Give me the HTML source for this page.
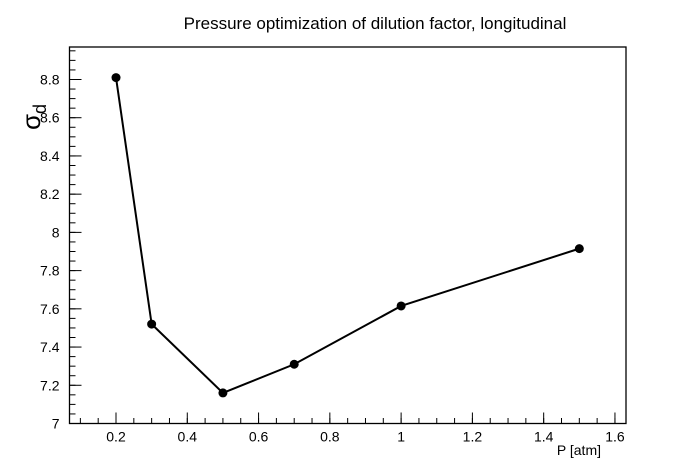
<!DOCTYPE html>
<html><head><meta charset="utf-8"><style>
body{margin:0;background:#fff;}
svg{display:block;font-family:"Liberation Sans",Helvetica,sans-serif;}
</style></head><body>
<svg width="696" height="472" viewBox="0 0 696 472">
<text x="375" y="29" font-size="17" text-anchor="middle">Pressure optimization of dilution factor, longitudinal</text>
<g id="axes"></g>
<g id="series"></g>
<text x="601" y="455" font-size="14" text-anchor="end">P [atm]</text>
<text transform="translate(40,117) rotate(-90)" font-size="26" text-anchor="middle">σ<tspan font-size="18" dy="6">d</tspan></text>
</svg>
<script>
const pressures=[0.2,0.3,0.5,0.7,1.0,1.5];
const sigmaD=[8.81,7.52,7.16,7.31,7.615,7.915];
const xTicks=[0.2,0.4,0.6,0.8,1,1.2,1.4,1.6];
const xTickLabels=["0.2","0.4","0.6","0.8","1","1.2","1.4","1.6"];
const yTicks=[7,7.2,7.4,7.6,7.8,8,8.2,8.4,8.6,8.8];
const yTickLabels=["7","7.2","7.4","7.6","7.8","8","8.2","8.4","8.6","8.8"];
const L=69.5,R=626,T=47,B=423.5;
const xMin=0.0695,xMax=1.631,yMin=7.0,yMax=8.97;
const sx=v=>L+(v-xMin)/(xMax-xMin)*(R-L);
const sy=v=>B-(v-yMin)/(yMax-yMin)*(B-T);
const NS="http://www.w3.org/2000/svg";
function mk(tag,attrs,parent){const e=document.createElementNS(NS,tag);for(const k in attrs)e.setAttribute(k,attrs[k]);parent.appendChild(e);return e;}
const ax=document.getElementById('axes');
const frame=mk('rect',{x:L,y:T,width:R-L,height:B-T,fill:'none',stroke:'#000','stroke-width':1.3},ax);


// minor ticks
for(let v=0.1;v<=1.6001;v+=0.05){const x=sx(v);if(x<L)continue;
 const t=mk('line',{x1:x,x2:x,y1:B,y2:B-5.5,stroke:'#000','stroke-width':1},ax);
 
 }
for(let v=7.05;v<=8.9501;v+=0.05){const y=sy(v);
 const t=mk('line',{x1:L,x2:L+6,y1:y,y2:y,stroke:'#000','stroke-width':1},ax);
 
 }
xTicks.forEach((v,i)=>{const x=sx(v);
 const t=mk('line',{x1:x,x2:x,y1:B,y2:B-11,stroke:'#000','stroke-width':1},ax);
 
 
 const l=mk('text',{x:x,y:B+18,'font-size':14,'text-anchor':'middle'},ax);l.textContent=xTickLabels[i];
 
 });
yTicks.forEach((v,i)=>{const y=sy(v);
 const t=mk('line',{x1:L,x2:L+12,y1:y,y2:y,stroke:'#000','stroke-width':1},ax);
 
 
 const l=mk('text',{x:L-10,y:y+5,'font-size':14,'text-anchor':'end'},ax);l.textContent=yTickLabels[i];
 
 });
const sg=document.getElementById('series');
const pts=pressures.map((p,i)=>sx(p)+','+sy(sigmaD[i])).join(' ');
const line=mk('polyline',{points:pts,fill:'none',stroke:'#000','stroke-width':2},sg);


pressures.forEach((p,i)=>{
 const c=mk('circle',{cx:sx(p),cy:sy(sigmaD[i]),r:4.5,fill:'#000'},sg);
 
 });
</script>
</body></html>
